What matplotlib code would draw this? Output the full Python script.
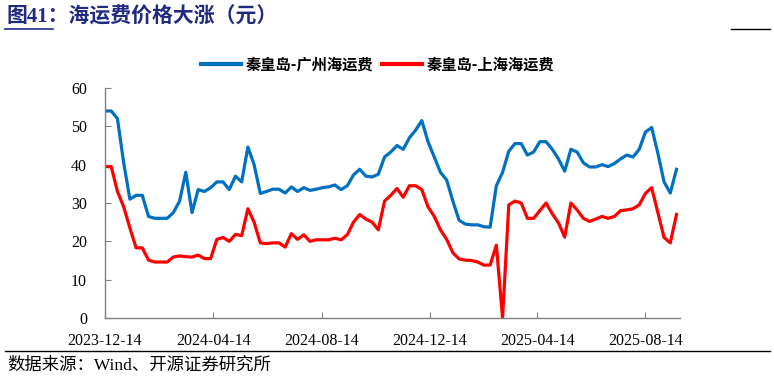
import matplotlib
matplotlib.use("Agg")
import matplotlib.pyplot as plt
import pandas as pd
from matplotlib.lines import Line2D

plt.rcParams["font.family"] = ["Liberation Serif", "Noto Sans CJK SC"]

# weekly observations starting 2023-12-14
start_date = "2023-12-14"
n_weeks = 93

gz_freight = [
    54, 54, 52, 40.5, 31, 32, 32, 26.5, 26, 26,
    26, 27.5, 30.5, 38, 27.5, 33.5, 33, 34, 35.5, 35.5,
    33.5, 37, 35.5, 44.6, 40, 32.5, 33, 33.6, 33.6, 32.6,
    34.2, 33, 34, 33.3, 33.6, 34, 34.2, 34.7, 33.5, 34.5,
    37.3, 38.8, 37, 36.8, 37.5, 42, 43.3, 45, 44, 47,
    49, 51.5, 46, 42, 38, 36, 30.5, 25.5, 24.5, 24.3,
    24.3, 23.8, 23.7, 34.5, 38, 43.5, 45.5, 45.5, 42.5, 43.3,
    46, 46, 44, 41.5, 38.3, 44, 43.3, 40.5, 39.4, 39.4,
    40, 39.5, 40.3, 41.5, 42.5, 42, 44, 48.5, 49.7, 43,
    35.5, 32.6, 38.8,
]
sh_freight = [
    39.5, 39.5, 33, 29, 23.5, 18.3, 18.3, 15.1, 14.6, 14.6,
    14.6, 15.9, 16.2, 16, 15.9, 16.4, 15.5, 15.5, 20.5, 21,
    20, 21.8, 21.5, 28.5, 25, 19.6, 19.4, 19.6, 19.6, 18.5,
    22, 20.5, 21.7, 20, 20.4, 20.4, 20.4, 20.8, 20.4, 21.7,
    25, 27, 25.8, 25, 23, 30.5, 32, 33.8, 31.5, 34.5,
    34.5, 33.5, 29, 26.5, 23, 20.5, 17, 15.4, 15.1, 15,
    14.6, 13.8, 13.8, 19, 0, 29.5, 30.5, 30, 26, 26,
    28, 30, 27.2, 24.8, 21.1, 30, 28.2, 26, 25.2, 25.8,
    26.5, 26, 26.5, 28, 28.2, 28.5, 29.5, 32.5, 34, 27.5,
    21, 19.6, 27,
]
series_names = ["秦皇岛-广州海运费", "秦皇岛-上海海运费"]
tick_dates = ["2023-12-14", "2024-04-14", "2024-08-14", "2024-12-14",
              "2025-04-14", "2025-08-14"]

dates = pd.date_range(start_date, periods=n_weeks, freq="7D")
blue = "#0070C0"
red = "#FF0000"
navy = "#1F2A80"

fig = plt.figure(figsize=(7.74, 3.77), dpi=100)
ax = fig.add_axes([0.1357, 0.1565, 0.8786 - 0.1357, 0.7666 - 0.1565])

ax.plot(dates, gz_freight, color=blue, lw=2.3, solid_joinstyle="round")
ax.plot(dates, sh_freight, color=red, lw=2.3, solid_joinstyle="round")

ax.set_ylim(0, 60)
ax.set_yticks(range(0, 61, 10))
ax.set_xlim(pd.Timestamp(start_date), dates[-1] + pd.Timedelta(days=4))
ax.set_xticks(pd.to_datetime(tick_dates))
ax.set_xticklabels(tick_dates)
ax.tick_params(direction="in", length=4, color="#808080", labelsize=11.5)
ax.tick_params(axis="x", pad=11)
ax.tick_params(axis="y", pad=13)
for side in ["top", "right"]:
    ax.spines[side].set_visible(False)
for side in ["left", "bottom"]:
    ax.spines[side].set_color("#808080")
    ax.spines[side].set_linewidth(1)

handles = [Line2D([], [], color=blue, lw=3), Line2D([], [], color=red, lw=3)]
fig.legend(handles, series_names, loc="center", bbox_to_anchor=(0.488, 0.828),
           ncol=2, frameon=False, handlelength=2.6, handletextpad=0.3,
           columnspacing=0.6, prop={"family": ["Noto Sans CJK SC"],
                                    "weight": "bold", "size": 11})

fig.text(0.009, 0.955, "图41：海运费价格大涨（元）", color=navy, fontsize=15,
         fontweight="bold", va="center", ha="left")
fig.add_artist(Line2D([0.006, 0.068], [0.923, 0.923], color=navy, lw=1.2))
fig.add_artist(Line2D([0.944, 0.995], [0.923, 0.923], color="black", lw=1.0))

fig.add_artist(Line2D([0.006, 0.995], [0.069, 0.069], color="black", lw=1.0))
fig.text(0.009, 0.03, "数据来源：Wind、开源证券研究所", fontsize=12.5,
         va="center", ha="left")

fig.savefig("out.png", dpi=100)
